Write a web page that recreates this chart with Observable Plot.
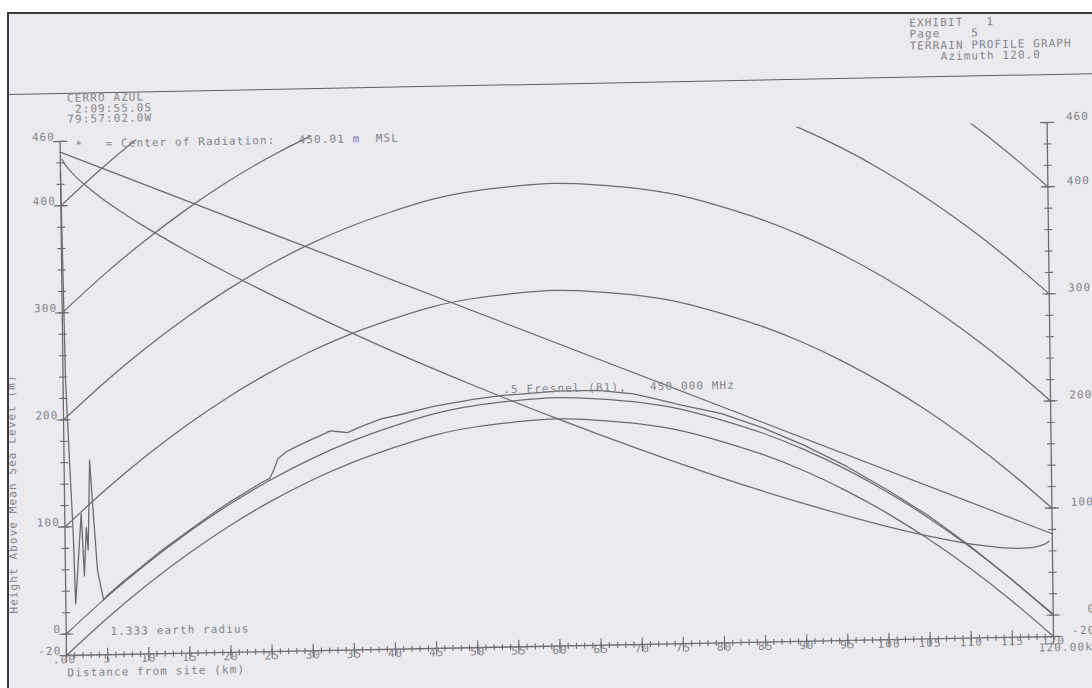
<!DOCTYPE html>
<html>
<head>
<meta charset="utf-8">
<script src="https://cdn.jsdelivr.net/npm/d3@7"></script>
<script src="https://cdn.jsdelivr.net/npm/@observablehq/plot@0.6"></script>
<style>
  html, body { margin:0; padding:0; background:#ffffff; }
  #page { position:relative; width:1092px; height:688px; overflow:hidden; background:#ffffff; }
  #paper { position:absolute; left:8px; top:13px; width:1084px; height:675px; overflow:hidden; background:#ebeaef; }
  #sheet { position:absolute; left:-8px; top:-13px; width:1092px; height:688px;
           transform-origin:66px 655px; transform:matrix(1,-0.0192,0.0125,1,0,0); }
  .mono { font-family:"DejaVu Sans Mono", monospace; font-size:11px; letter-spacing:1.1px;
          color:#858489; white-space:pre; position:absolute; margin:0; }
  #rule { position:absolute; left:-80px; width:1300px; top:93px; height:0; border-top:1.4px solid #5f5e63; }
  #frameL { position:absolute; left:7px; top:12px; width:2px; height:676px; background:#3a393d; }
  #frameT { position:absolute; left:7px; top:12px; width:1085px; height:2px; background:#3a393d; }
  #chart svg text { letter-spacing:1.1px; white-space:pre; }
</style>
</head>
<body>
<div id="page">
  <div id="paper">
    <div id="sheet">
      <div id="rule"></div>
      <pre class="mono" id="hdrR" style="left:917px;top:33.7px;line-height:11.6px;"></pre>
      <pre class="mono" id="hdrL" style="left:74px;top:94.2px;line-height:10.5px;"></pre>
      <div id="chart" style="position:absolute;left:0;top:0;"></div>
    </div>
  </div>
  <div id="frameL"></div><div id="frameT"></div>
</div>
<script>
// ---------- header text ----------
const headerRight = ["EXHIBIT   1", "Page    5", "TERRAIN PROFILE GRAPH", "    Azimuth 120.0"];
const headerLeft = ["CERRO AZUL", " 2:09:55.0S", "79:57:02.0W"];

// ---------- axis ticks / labels ----------
const kmMinor = d3.range(0, 121, 1);
const kmMajor = d3.range(0, 121, 5);
const kmLabels = [".00","5","10","15","20","25","30","35","40","45","50","55","60","65","70","75","80","85","90","95","100","105","110","115","120"];
const mMinor = d3.range(-20, 461, 20);
const mLabelValues = [460, 400, 300, 200, 100, 0, -20];

// ---------- earth-curvature reference arcs (1.333 earth radius) ----------
const arcKm    = [0,5,10,15,20,25,30,35,40,45,50,55,60,65,70,75,80,85,90,95,100,105,110,115,120];
const arcBulge = [0,34,65,93,118,140,159,175,188,199,206,210,212,210,206,199,188,175,159,140,118,93,65,34,0];
const arcLevels = [-20, 0, 100, 200, 300, 400];

// ---------- terrain profile ----------
const terrainKm = [0,0.3,0.75,1.0,1.2,2.0,2.3,2.6,2.8,3.1,3.4,3.9,4.6,5,7,9,10,12,15,18,20,22,24,25,25.5,26,27,28,30,31,32.4,33.5,34.5,36,38.5,41,45,50,53.5,60,65,69.3,72,75,80,85,90,95,100,105,110,115,118,120];
const terrainM  = [432,237,143,95,28,112,54,99,78,162,121,59,31,35,48,60,66,78,94,110,120,129,138,142,150,160,166,170,177,180,185,184,183,188,195,199,206,212,215,218,218,214,209,203,194,180,163,143,120,95,66,34,14,1];

// ---------- line of sight from center of radiation ----------
const losKm = [0, 120];
const losM  = [450.01, 76];

// ---------- lower 0.5 Fresnel zone boundary ----------
const fresnelKm = [0.2,0.5,1,2,3,5,7.5,10,15,20,30,40,50,60,70,80,90,100,105,110,113,115,117,118,119,119.6];
const fresnelM  = [443.6,439.3,434,425.7,418.6,406.1,392.4,379.7,356.5,335,295.3,258.6,224.5,192.3,162.1,133.9,108.3,85.6,75.9,68,64.7,63.2,63.2,64.1,66.2,69.1];

// ---------- in-plot annotations ----------
const noteText = ["*", "= Center of Radiation:   450.01 m  MSL", "1.333 earth radius", ".5 Fresnel (B1),   450.000 MHz"];
const noteKm   = [1.87, 5.52, 5.37, 53.5];
const noteM    = [456.2, 457.2, 1.6, 220.4];

const xTitle = "Distance from site (km)";
const yTitle = "Height Above Mean Sea Level (m)";
const endLabel = "120.00km";

document.getElementById("hdrR").textContent = headerRight.join("\n");
document.getElementById("hdrL").textContent = headerLeft.join("\n");

const ink = "#6d6c71";
const txt = "#858489";

const tickV = {draw(ctx, size){ const h = Math.sqrt(size/Math.PI); ctx.moveTo(0,-h); ctx.lineTo(0,h); }};
const tickH = {draw(ctx, size){ const h = Math.sqrt(size/Math.PI); ctx.moveTo(-h,0); ctx.lineTo(h,0); }};

const arcRows = arcLevels.flatMap(level => arcKm.map((km, i) => ({level, km, m: level + arcBulge[i]})));
const terrain = terrainKm.map((km, i) => ({km, m: terrainM[i]}));
const los = losKm.map((km, i) => ({km, m: losM[i]}));
const fresnel = fresnelKm.map((km, i) => ({km, m: fresnelM[i]}));
const notes = noteText.map((t, i) => ({t, km: noteKm[i], m: noteM[i]}));
const xLab = kmMajor.map((km, i) => ({km, t: kmLabels[i]}));
const yTicksBoth = mMinor.flatMap(m => [{km:0, m}, {km:120, m}]);
const yMajBoth = mLabelValues.flatMap(m => [{km:0, m}, {km:120, m}]);

const chart = Plot.plot({
  width: 1092, height: 688,
  marginLeft: 66, marginRight: 39, marginTop: 141, marginBottom: 33,
  x: {domain: [0, 120], axis: null},
  y: {domain: [-20, 460], axis: null},
  style: {background: "transparent", fontFamily: "'DejaVu Sans Mono', monospace", fontSize: "11px", overflow: "visible", color: txt},
  marks: [
    // axes
    Plot.ruleY([-20], {stroke: ink, strokeWidth: 1.3}),
    Plot.ruleX([0, 120], {stroke: ink, strokeWidth: 1.3}),
    Plot.dot(kmMinor, {x: d => d, y: () => -20, r: 3, symbol: tickV, stroke: ink, fill: "none", strokeWidth: 1.1}),
    Plot.dot(kmMajor, {x: d => d, y: () => -20, r: 7, symbol: tickV, stroke: ink, fill: "none", strokeWidth: 1.1}),
    Plot.dot(yTicksBoth, {x: "km", y: "m", r: 4, symbol: tickH, stroke: ink, fill: "none", strokeWidth: 1.1}),
    Plot.dot(yMajBoth, {x: "km", y: "m", r: 7, symbol: tickH, stroke: ink, fill: "none", strokeWidth: 1.1}),
    // axis labels
    Plot.text(xLab.filter(d => d.km > 0), {x: "km", y: () => -20, text: "t", lineAnchor: "top", fill: txt}),
    Plot.text(xLab.filter(d => d.km === 0), {x: "km", y: () => -20, text: "t", lineAnchor: "top", dx: -2, fill: txt}),
    Plot.text(mLabelValues, {x: () => 0, y: d => d, text: d => String(d), textAnchor: "end", lineAnchor: "bottom", dx: -5, dy: -1, fill: txt}),
    Plot.text(mLabelValues, {x: () => 120, y: d => d, text: d => String(d), textAnchor: "end", lineAnchor: "bottom", dx: 42, dy: -2, fill: txt}),
    Plot.text([xTitle], {x: () => 0.1, y: () => -36.3, text: d => d, textAnchor: "start", lineAnchor: "middle", fill: txt}),
    Plot.text([endLabel], {x: () => 118.19, y: () => -30.4, text: d => d, textAnchor: "start", lineAnchor: "middle", fill: txt}),
    Plot.text([yTitle], {x: () => -6.3, y: () => 20, text: d => d, rotate: -90, textAnchor: "start", lineAnchor: "middle", fill: txt}),
    // reference arcs
    Plot.line(arcRows, {x: "km", y: "m", z: "level", curve: "natural", stroke: ink, strokeWidth: 1.25, clip: true}),
    // line of sight and fresnel boundary
    Plot.line(los, {x: "km", y: "m", stroke: ink, strokeWidth: 1.25}),
    Plot.line(fresnel, {x: "km", y: "m", curve: "catmull-rom", stroke: ink, strokeWidth: 1.25}),
    // terrain
    Plot.line(terrain, {x: "km", y: "m", stroke: ink, strokeWidth: 1.3}),
    // annotations
    Plot.text(notes, {x: "km", y: "m", text: "t", textAnchor: "start", lineAnchor: "middle", fill: txt})
  ]
});
document.getElementById("chart").appendChild(chart);
</script>
</body>
</html>
